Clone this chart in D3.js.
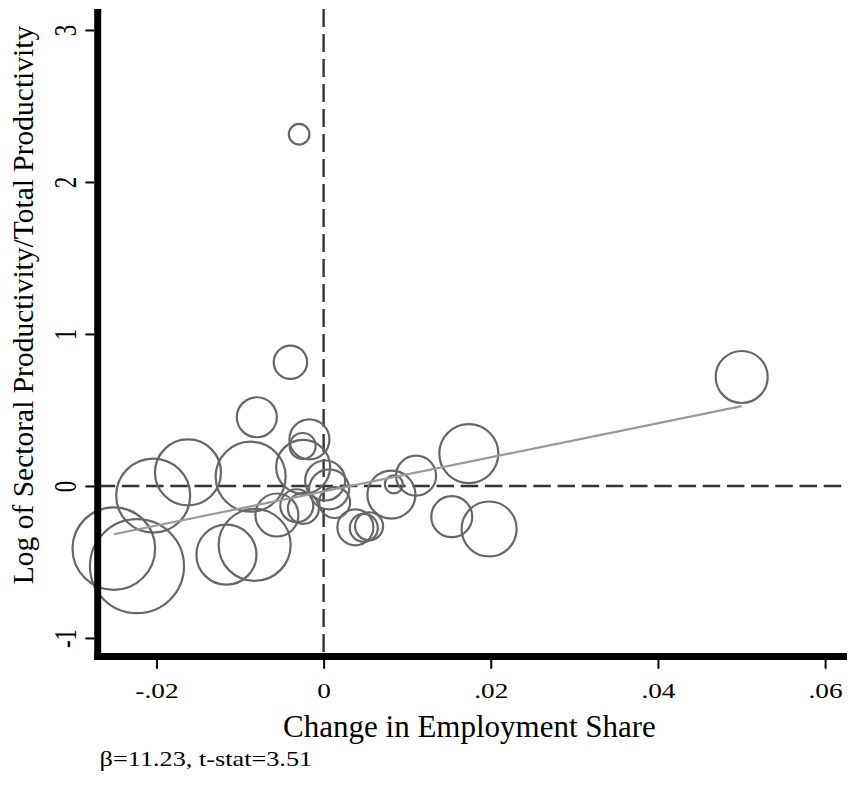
<!DOCTYPE html>
<html>
<head>
<meta charset="utf-8">
<script src="https://cdn.jsdelivr.net/npm/d3@7"></script>
<style>
  html, body { margin: 0; padding: 0; background: #fff; }
  svg { display: block; }
  text { font-family: "Liberation Serif", "Times New Roman", Times, serif; fill: #000; }
</style>
</head>
<body>
<svg id="chart" width="848" height="786"></svg>
<script>
// Sector-level observations: change in employment share vs. log relative productivity
const empShareChange = [
  -0.02510, -0.02233, -0.02039, -0.01623, -0.00799, -0.00873, -0.01163, -0.00825,
  -0.00559, -0.00245, -0.00170, -0.00251, -0.00397, -0.00293, -0.00321, -0.00242,
   0.00018,  0.00066,  0.00132,  0.00380,  0.00481,  0.00544,  0.00811,  0.00840,
   0.01106,  0.01737,  0.01533,  0.01980,  0.05002
];
const logRelProductivity = [
  -0.412, -0.528, -0.063,  0.089,  0.452,  0.061, -0.452, -0.388,
  -0.191,  0.125,  0.306,  0.263,  0.814,  2.314, -0.130, -0.147,
   0.036, -0.022, -0.109, -0.272, -0.276, -0.265, -0.057,  0.011,
   0.068,  0.213, -0.202, -0.283,  0.717
];
// Bubble weights (sector employment weight, area-proportional)
const sectorWeight = [
  170.6, 220.9, 136.9, 108.9, 40.0, 122.5, 90.0, 129.6,
   46.2,  72.9,  40.0,  16.9, 27.9,  10.6, 27.2,  24.0,
   40.0,  40.0,  24.0,  32.4, 19.6,  19.6, 57.6,   8.1,
   40.0,  87.0,  42.0,  75.6, 67.6
];

// Weighted fit reported in the note
const beta = 11.23;
const tStat = 3.51;
const fitIntercept = -0.0361;

const xTicks = [-0.02, 0, 0.02, 0.04, 0.06];
const xTickLabels = ["-.02", "0", ".02", ".04", ".06"];
const yTicks = [-1, 0, 1, 2, 3];
const yTickLabels = ["-1", "0", "1", "2", "3"];

const xTitle = "Change in Employment Share";
const yTitle = "Log of Sectoral Productivity/Total Productivity";
const note = "\u03b2=" + beta.toFixed(2) + ", t-stat=" + tStat.toFixed(2);

const points = empShareChange.map((x, i) => ({
  x, y: logRelProductivity[i], w: sectorWeight[i]
}));

const svg = d3.select("#chart");

const plot = { left: 97.7, right: 846, top: 9, bottom: 656.5 };

const x = d3.scaleLinear().domain([-0.02703, 0.0625]).range([plot.left, plot.right]);
const y = d3.scaleLinear().domain([-1.122, 3.138]).range([plot.bottom, plot.top]);
const r = d3.scaleSqrt().domain([0, d3.max(sectorWeight)]).range([0, 47]);

// Reference lines at zero
const refColor = "#333";
svg.append("line")
  .attr("x1", plot.left).attr("x2", plot.right)
  .attr("y1", y(0)).attr("y2", y(0))
  .attr("stroke", refColor).attr("stroke-width", 2.4)
  .attr("stroke-dasharray", "17.5,6.7");
svg.append("line")
  .attr("x1", x(0)).attr("x2", x(0))
  .attr("y1", plot.top).attr("y2", plot.bottom)
  .attr("stroke", refColor).attr("stroke-width", 2.4)
  .attr("stroke-dasharray", "18,7");

// Bubbles
svg.append("g")
  .selectAll("circle")
  .data(points)
  .join("circle")
  .attr("cx", d => x(d.x))
  .attr("cy", d => y(d.y))
  .attr("r", d => r(d.w))
  .attr("fill", "none")
  .attr("stroke", "#666")
  .attr("stroke-width", 2.2);

// Fitted line over the range of the data
const xExt = d3.extent(empShareChange);
const fit = xExt.map(v => ({ x: v, y: fitIntercept + beta * v }));
svg.append("path")
  .datum(fit)
  .attr("d", d3.line().x(d => x(d.x)).y(d => y(d.y)))
  .attr("fill", "none")
  .attr("stroke", "#9a9a9a")
  .attr("stroke-width", 2.2);

// Axes
const xAxis = d3.axisBottom(x)
  .tickValues(xTicks)
  .tickFormat((d, i) => xTickLabels[i])
  .tickSize(9);
const gx = svg.append("g")
  .attr("transform", `translate(0,${plot.bottom + 3.3})`)
  .call(xAxis);
gx.select(".domain").remove();
gx.selectAll(".tick line").attr("stroke", "#000").attr("stroke-width", 2);
gx.selectAll(".tick text")
  .attr("font-family", "Liberation Serif")
  .attr("font-size", 21)
  .attr("fill", "#000")
  .attr("y", null).attr("dy", null)
  .attr("text-anchor", "middle")
  .attr("transform", "translate(0,38.5) scale(1.3,1)");

const yAxis = d3.axisLeft(y)
  .tickValues(yTicks)
  .tickFormat((d, i) => yTickLabels[i])
  .tickSize(9);
const gy = svg.append("g")
  .attr("transform", `translate(${plot.left - 3.3},0)`)
  .call(yAxis);
gy.select(".domain").remove();
gy.selectAll(".tick line").attr("stroke", "#000").attr("stroke-width", 2);
gy.selectAll(".tick text")
  .attr("font-family", "Liberation Serif")
  .attr("font-size", 23)
  .attr("fill", "#000")
  .attr("x", null).attr("dy", null)
  .attr("text-anchor", "middle")
  .attr("transform", "translate(-18.4,0) rotate(-90) scale(1,1.35)");

// Thick axis lines
svg.append("line")
  .attr("x1", plot.left).attr("x2", plot.left)
  .attr("y1", plot.top).attr("y2", plot.bottom + 3.5)
  .attr("stroke", "#000").attr("stroke-width", 7);
svg.append("line")
  .attr("x1", plot.left - 3.5).attr("x2", plot.right + 1)
  .attr("y1", plot.bottom).attr("y2", plot.bottom)
  .attr("stroke", "#000").attr("stroke-width", 7);

// Titles
svg.append("text")
  .attr("x", 469.5).attr("y", 736.7)
  .attr("text-anchor", "middle")
  .attr("font-size", 31)
  .text(xTitle);
svg.append("text")
  .attr("transform", "translate(33,305) rotate(-90)")
  .attr("text-anchor", "middle")
  .attr("font-size", 29.5)
  .text(yTitle);

// Note
svg.append("text")
  .attr("transform", "translate(99.6,765.7) scale(1.25,1)")
  .attr("font-size", 21)
  .text(note);
</script>
</body>
</html>
